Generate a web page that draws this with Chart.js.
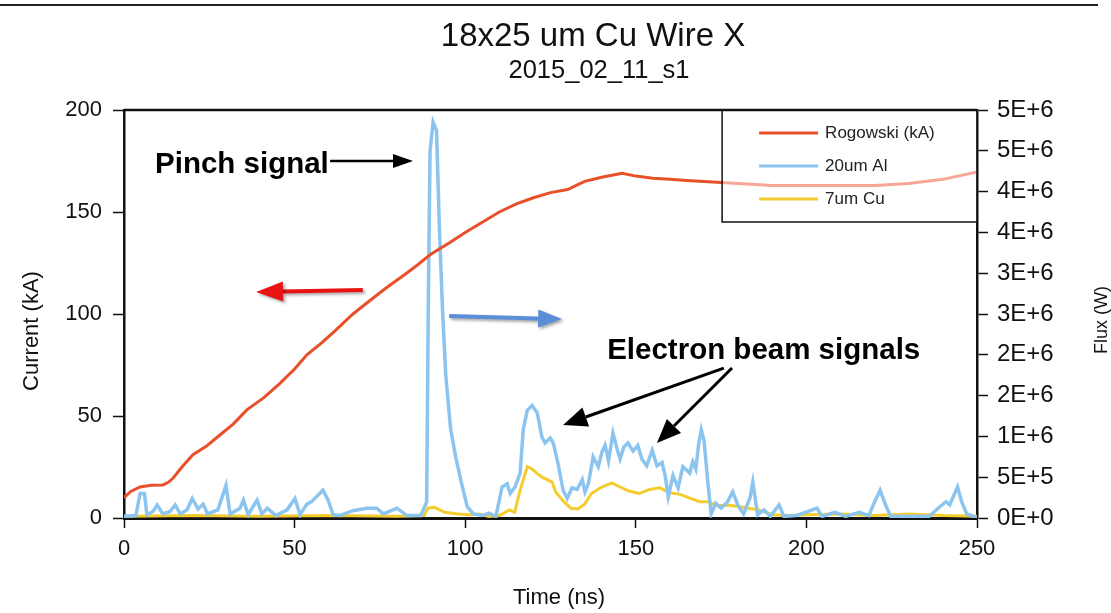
<!DOCTYPE html>
<html>
<head>
<meta charset="utf-8">
<script src="https://cdn.jsdelivr.net/npm/chart.js"></script>
<style>
  body { margin: 0; background: #fff; }
  canvas { display: block; }
</style>
</head>
<body>
<canvas id="graficoFio" width="1111" height="613"></canvas>
<script>
// Rogowski (kA), eixo da esquerda
const tempoRogowski = [0, 2, 4.7, 8, 11.4, 13, 14.4, 17, 20.2, 24, 28.1, 32, 36, 41, 45.7, 50, 53.6, 58, 62, 67.1,
  72, 77, 82, 86, 89.7, 95.5, 100, 105, 110, 115, 120, 125, 130, 135, 140, 146, 150, 155, 160, 165,
  170, 175, 180, 190, 200, 210, 220, 230, 240, 250];
const correnteRogowski = [10, 13, 15.2, 16, 16.2, 17.5, 19.6, 25, 31, 35, 40.7, 46, 53, 59, 66, 73, 80, 86, 92, 100,
  106.5, 113, 119, 124, 129, 135, 140, 145, 150, 154, 157, 159.5, 161, 165, 167, 169, 167.6, 166.5, 166, 165.5,
  165, 164.5, 164, 163, 163, 163, 163, 164, 166, 169.6];

// 20um Al, fluxo em MW (eixo da direita)
const tempoAl = [0, 3.5, 4.7, 6, 6.7, 8.5, 9.7, 11.4, 13.5, 15, 16.5, 18.5, 20, 21.7, 23.2, 24.5, 27.5, 29.9, 31.1, 34,
  35, 36.4, 39, 40.4, 42, 44.5, 47.8, 50.1, 51.6, 53.6, 55, 58.3, 59.8, 61.3, 63.2, 67.1, 71.2, 74.1, 76, 80,
  82.9, 87, 88.7, 89.2, 89.7, 90.6, 91.6, 92.4, 93.3, 94.3, 95.7, 97.2, 98.8, 100.6, 102.4, 105, 107, 109, 110.8, 112.3,
  113.2, 114.6, 116.1, 117, 118.2, 119.6, 121.1, 122.5, 123.4, 124.9, 125.8, 127.2, 128.7, 129.9, 131.3, 132.8, 134.3, 135.1, 136.1, 137.5,
  139, 140.1, 141, 142, 143.3, 144.5, 145.4, 146.5, 147.7, 149.2, 150.6, 151.8, 153.2, 154.8, 156.2, 157.7, 158.6, 159.5, 160.9, 162.4,
  163.8, 165.8, 166.7, 167.6, 168.4, 169.2, 170, 171.2, 172.1, 173.4, 175, 176.9, 178.4, 179.9, 181.6, 183.5, 184.3, 185.7, 187.6, 189.4,
  192, 193.4, 197, 200.5, 203.1, 204.6, 208.3, 211.5, 215.5, 218.3, 220, 221.6, 223.3, 224.7, 230, 236, 238.6, 240.9, 242, 244.3,
  245.5, 247, 250];
const fluxoAl = [0.02, 0.03, 0.3, 0.3, 0.04, 0.08, 0.16, 0.05, 0.08, 0.16, 0.05, 0.1, 0.24, 0.11, 0.17, 0.05, 0.1, 0.4, 0.05, 0.12,
  0.22, 0.04, 0.22, 0.05, 0.12, 0.03, 0.1, 0.24, 0.04, 0.17, 0.2, 0.34, 0.22, 0.04, 0.03, 0.09, 0.12, 0.12, 0.05, 0.12,
  0.03, 0.03, 0.2, 2.67, 4.5, 4.85, 4.75, 3.6, 2.6, 1.75, 1.1, 0.75, 0.45, 0.14, 0.05, 0.03, 0.06, 0.02, 0.38, 0.42,
  0.3, 0.38, 0.55, 1.08, 1.32, 1.38, 1.29, 0.99, 0.92, 0.98, 0.92, 0.67, 0.34, 0.24, 0.37, 0.35, 0.47, 0.32, 0.42, 0.75,
  0.63, 0.81, 0.89, 0.7, 1.04, 0.85, 0.72, 0.87, 0.92, 0.82, 0.89, 0.72, 0.64, 0.83, 0.64, 0.68, 0.52, 0.26, 0.52, 0.37,
  0.63, 0.55, 0.69, 0.6, 0.9, 1.08, 0.95, 0.4, 0.05, 0.18, 0.12, 0.2, 0.32, 0.16, 0.05, 0.25, 0.44, 0.04, 0.1, 0.02,
  0.16, 0.02, 0.03, 0.08, 0.12, 0.02, 0.07, 0.02, 0.07, 0.03, 0.2, 0.34, 0.15, 0.02, 0.02, 0.02, 0.12, 0.2, 0.16, 0.38,
  0.2, 0.05, 0];

// 7um Cu, fluxo em MW
const tempoCu = [0, 20, 40, 60, 80, 88, 89, 91, 94, 98, 101, 104, 107, 110, 113, 114.5, 116.1, 118.2, 119.6, 121,
  122.5, 124, 125.5, 126.5, 128.9, 131, 133, 135, 137, 140, 143, 145.4, 148, 151, 154, 157, 160, 163, 166, 168.8,
  171, 174, 177, 180, 183, 186, 190, 195, 200, 210, 220, 230, 240, 250];
const fluxoCu = [0.02, 0.03, 0.02, 0.03, 0.02, 0.03, 0.12, 0.13, 0.07, 0.05, 0.04, 0.05, 0.02, 0.03, 0.1, 0.07, 0.34, 0.63, 0.6, 0.55,
  0.5, 0.47, 0.44, 0.32, 0.2, 0.12, 0.11, 0.17, 0.3, 0.38, 0.43, 0.38, 0.33, 0.3, 0.35, 0.37, 0.31, 0.29, 0.24, 0.2,
  0.2, 0.15, 0.16, 0.14, 0.12, 0.1, 0.04, 0.03, 0.04, 0.05, 0.03, 0.05, 0.03, 0.02];

const nomesSeries = ["Rogowski (kA)", "20um Al", "7um Cu"];
const coresSeries = ["#e8502a", "#8cc4f0", "#f5cc2e"];

const fonte = '"Liberation Sans", Arial, Helvetica, sans-serif';

function pontos(tempos, valores, escala) {
  return tempos.map((t, i) => ({ x: t, y: valores[i] * escala }));
}

function seta(ctx, x1, y1, x2, y2, cor, largura, cabeca, meia) {
  const ang = Math.atan2(y2 - y1, x2 - x1);
  const bx = x2 - cabeca * Math.cos(ang);
  const by = y2 - cabeca * Math.sin(ang);
  ctx.strokeStyle = cor;
  ctx.fillStyle = cor;
  ctx.lineWidth = largura;
  ctx.beginPath();
  ctx.moveTo(x1, y1);
  ctx.lineTo(bx, by);
  ctx.stroke();
  ctx.beginPath();
  ctx.moveTo(x2, y2);
  ctx.lineTo(bx - meia * Math.sin(ang), by + meia * Math.cos(ang));
  ctx.lineTo(bx + meia * Math.sin(ang), by - meia * Math.cos(ang));
  ctx.closePath();
  ctx.fill();
}

// legenda desenhada por cima das linhas, com fundo meio transparente
const legendaCaixa = {
  id: "legendaCaixa",
  afterDatasetsDraw(chart) {
    const { ctx, scales } = chart;
    const x0 = scales.x.getPixelForValue(175.3);
    const x1 = scales.x.getPixelForValue(250);
    const y0 = scales.y.getPixelForValue(200);
    const y1 = scales.y.getPixelForValue(145.1);
    ctx.save();
    ctx.fillStyle = "rgba(255,255,255,0.5)";
    ctx.fillRect(x0, y0, x1 - x0, y1 - y0);
    ctx.strokeStyle = "#111";
    ctx.lineWidth = 1.5;
    ctx.strokeRect(x0, y0, x1 - x0, y1 - y0);
    ctx.font = "17px " + fonte;
    ctx.textBaseline = "middle";
    nomesSeries.forEach((nome, i) => {
      const y = y0 + 23 + i * 33;
      ctx.strokeStyle = coresSeries[i];
      ctx.lineWidth = 3;
      ctx.beginPath();
      ctx.moveTo(x0 + 37, y);
      ctx.lineTo(x0 + 96, y);
      ctx.stroke();
      ctx.fillStyle = "#222";
      ctx.fillText(nome, x0 + 103, y);
    });
    ctx.restore();
  },
};

const anotacoes = {
  id: "anotacoes",
  afterDraw(chart) {
    const { ctx, scales, chartArea } = chart;
    const px = (t) => scales.x.getPixelForValue(t);
    const py = (v) => scales.y.getPixelForValue(v);
    ctx.save();

    // moldura e linha do topo
    ctx.strokeStyle = "#111";
    ctx.lineWidth = 2.5;
    ctx.beginPath();
    ctx.moveTo(chartArea.left, chartArea.top);
    ctx.lineTo(chartArea.right, chartArea.top);
    ctx.stroke();
    ctx.lineWidth = 2;
    ctx.strokeStyle = "#222";
    ctx.beginPath();
    ctx.moveTo(0, 5);
    ctx.lineTo(1098, 5);
    ctx.stroke();

    // titulos
    ctx.fillStyle = "#111";
    ctx.textAlign = "center";
    ctx.textBaseline = "alphabetic";
    ctx.font = "33px " + fonte;
    ctx.fillText("18x25 um Cu Wire X", 593, 46);
    ctx.font = "25.5px " + fonte;
    ctx.fillText("2015_02_11_s1", 599, 78);
    ctx.font = "22px " + fonte;
    ctx.textBaseline = "middle";
    ctx.fillText("Time (ns)", 559, 598);
    ctx.save();
    ctx.translate(32, 331);
    ctx.rotate(-Math.PI / 2);
    ctx.fillText("Current (kA)", 0, 0);
    ctx.restore();
    ctx.save();
    ctx.translate(1102, 320);
    ctx.rotate(-Math.PI / 2);
    ctx.font = "18px " + fonte;
    ctx.fillText("Flux (W)", 0, 0);
    ctx.restore();

    // textos em negrito
    ctx.textAlign = "left";
    ctx.textBaseline = "alphabetic";
    ctx.font = "bold 29.5px " + fonte;
    ctx.fillStyle = "#000";
    ctx.fillText("Pinch signal", px(9.1), py(169.1));
    ctx.fillText("Electron beam signals", px(141.6), py(78));

    // setas pretas
    seta(ctx, px(60.4), py(175), px(84.7), py(175), "#000", 2.5, 20, 7);
    seta(ctx, px(175.8), py(73.5), px(128.7), py(45.6), "#000", 3, 24, 10);
    seta(ctx, px(178.2), py(73.5), px(156.2), py(36.8), "#000", 3, 24, 10);

    // setas vermelha e azul com sombra
    ctx.shadowColor = "rgba(0,0,0,0.35)";
    ctx.shadowOffsetX = 2;
    ctx.shadowOffsetY = 2;
    ctx.shadowBlur = 3;
    seta(ctx, px(70), py(111.8), px(38.7), py(110.8), "#e81414", 4, 27, 10);
    seta(ctx, px(95.3), py(99), px(128.4), py(97.5), "#5a8ed8", 4, 24, 9);
    ctx.restore();
  },
};

const canvasFio = document.getElementById("graficoFio");

const graficoFio = new Chart(canvasFio, {
  type: "line",
  data: {
    datasets: [
      {
        label: nomesSeries[0],
        data: pontos(tempoRogowski, correnteRogowski, 1),
        borderColor: coresSeries[0],
        borderWidth: 3,
        yAxisID: "y",
      },
      {
        label: nomesSeries[1],
        data: pontos(tempoAl, fluxoAl, 1e6),
        borderColor: coresSeries[1],
        borderWidth: 3.5,
        yAxisID: "y2",
      },
      {
        label: nomesSeries[2],
        data: pontos(tempoCu, fluxoCu, 1e6),
        borderColor: coresSeries[2],
        borderWidth: 3,
        yAxisID: "y2",
      },
    ],
  },
  options: {
    responsive: false,
    animation: false,
    layout: { padding: { top: 110, left: 0, right: 0, bottom: 0 } },
    elements: { point: { radius: 0 }, line: { tension: 0 } },
    plugins: { legend: { display: false }, tooltip: { enabled: false } },
    scales: {
      x: {
        type: "linear",
        min: 0,
        max: 250,
        ticks: { stepSize: 50, padding: 8, color: "#111", font: { family: fonte, size: 22 } },
        grid: { drawOnChartArea: false, tickLength: 10, tickColor: "#111", tickWidth: 1.5 },
        border: { color: "#111", width: 3 },
        afterFit: (s) => { s.height = 95; },
      },
      y: {
        position: "left",
        min: 0,
        max: 200,
        ticks: { stepSize: 50, padding: 11, color: "#111", font: { family: fonte, size: 22 } },
        grid: { drawOnChartArea: false, tickLength: 11, tickColor: "#111", tickWidth: 1.5 },
        border: { color: "#111", width: 2.5 },
        afterFit: (s) => { s.width = 124; },
      },
      y2: {
        position: "right",
        min: 0,
        max: 5e6,
        ticks: {
          stepSize: 5e5,
          padding: 9,
          color: "#111",
          font: { family: fonte, size: 24 },
          callback: (v) => Number(v).toExponential(0).toUpperCase(),
        },
        grid: { drawOnChartArea: false, tickLength: 11, tickColor: "#111", tickWidth: 1.5 },
        border: { color: "#111", width: 2.5 },
        afterFit: (s) => { s.width = 134; },
      },
    },
  },
  plugins: [legendaCaixa, anotacoes],
});
</script>
</body>
</html>
